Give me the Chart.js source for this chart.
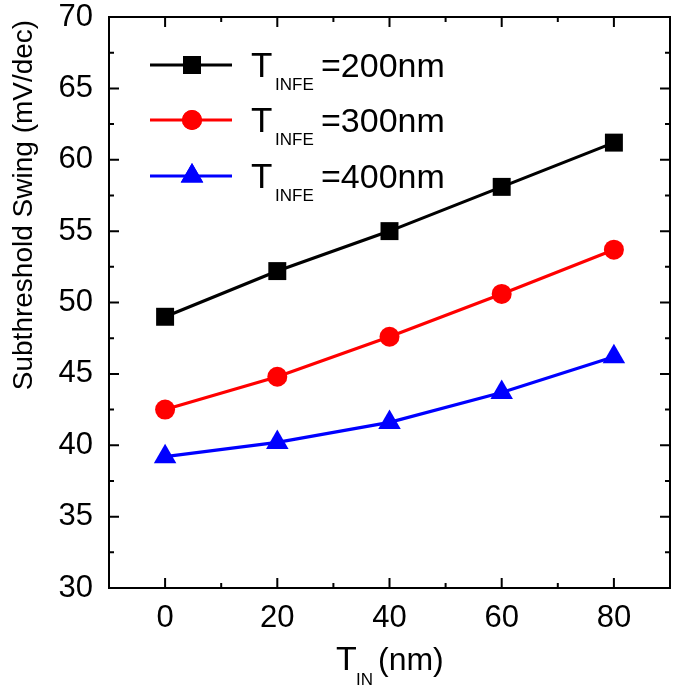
<!DOCTYPE html>
<html>
<head>
<meta charset="utf-8">
<script src="https://cdn.jsdelivr.net/npm/chart.js@4/dist/chart.umd.min.js"></script>
<style>
  html, body { margin:0; padding:0; background:#fff; }
  #wrap { width:675px; height:687px; position:relative; }
</style>
</head>
<body>
<div id="wrap"><canvas id="c" width="675" height="687"></canvas></div>
<script>
// Daten
var tIn = [0, 20, 40, 60, 80];
var ss200 = [49.0, 52.2, 55.0, 58.1, 61.2];
var ss300 = [42.5, 44.8, 47.6, 50.6, 53.7];
var ss400 = [39.2, 40.2, 41.6, 43.7, 46.2];
var seriesNames = ["=200nm", "=300nm", "=400nm"];

var xMajor = [0, 20, 40, 60, 80];
var xMinor = [-10, 10, 30, 50, 70, 90];
var yMajor = [30, 35, 40, 45, 50, 55, 60, 65, 70];
var yMinor = [32.5, 37.5, 42.5, 47.5, 52.5, 57.5, 62.5, 67.5];

var FONT = "'Liberation Sans', Arial, sans-serif";
var BLACK = "#000000", RED = "#ff0000", BLUE = "#0000ff";

function pts(ys){ return tIn.map(function(x,i){ return {x:x, y:ys[i]}; }); }

var styles = [
  { color:BLACK, pointStyle:"rect", radius:12.7 },
  { color:RED, pointStyle:"circle", radius:10 },
  { color:BLUE, pointStyle:"triangle", radius:13 }
];
var values = [ss200, ss300, ss400];

var datasets = values.map(function(v,i){
  var s = styles[i];
  return {
    label: seriesNames[i], data: pts(v),
    borderColor: s.color, backgroundColor: s.color,
    borderWidth: 3.2, pointStyle: s.pointStyle, pointRadius: s.radius,
    pointHoverRadius: s.radius, pointBorderWidth: 0, tension: 0, clip: false
  };
});

function marker(ctx, s, x, y){
  if (Chart.helpers && Chart.helpers.drawPoint){
    ctx.save();
    ctx.fillStyle = s.color; ctx.strokeStyle = s.color;
    Chart.helpers.drawPoint(ctx, {pointStyle:s.pointStyle, radius:s.radius, rotation:0, borderWidth:0}, x, y);
    ctx.fill();
    ctx.restore();
  }
}

function noPad(s){ s.paddingTop = 0; s.paddingBottom = 0; s.paddingLeft = 0; s.paddingRight = 0; }

// Rahmen, Innen-Ticks, Titel, Legende
var decor = {
  id: "decor",
  afterDraw: function(chart){
    var ctx = chart.ctx, a = chart.chartArea;
    var xs = chart.scales.x, ys = chart.scales.y;
    ctx.save();
    ctx.strokeStyle = BLACK; ctx.lineWidth = 2;
    ctx.strokeRect(a.left, a.top, a.right - a.left, a.bottom - a.top);

    ctx.beginPath();
    function xt(v, len){
      var p = xs.getPixelForValue(v);
      ctx.moveTo(p, a.bottom); ctx.lineTo(p, a.bottom - len);
      ctx.moveTo(p, a.top); ctx.lineTo(p, a.top + len);
    }
    function yt(v, len){
      var p = ys.getPixelForValue(v);
      ctx.moveTo(a.left, p); ctx.lineTo(a.left + len, p);
      ctx.moveTo(a.right, p); ctx.lineTo(a.right - len, p);
    }
    xMajor.forEach(function(v){ xt(v, 10); });
    xMinor.forEach(function(v){ xt(v, 5); });
    yMajor.forEach(function(v){ yt(v, 10); });
    yMinor.forEach(function(v){ yt(v, 5); });
    ctx.stroke();

    ctx.fillStyle = BLACK;
    ctx.textBaseline = "alphabetic";

    // y-Titel
    ctx.save();
    ctx.translate(32, 205);
    ctx.rotate(-Math.PI/2);
    ctx.textAlign = "center";
    ctx.font = "28px " + FONT;
    ctx.fillText("Subthreshold Swing (mV/dec)", 0, 0);
    ctx.restore();

    // x-Titel T_IN(nm)
    ctx.textAlign = "left";
    ctx.font = "34px " + FONT;
    ctx.fillText("T", 336, 670);
    ctx.font = "17px " + FONT;
    ctx.fillText("IN", 356, 685);
    ctx.font = "32px " + FONT;
    ctx.fillText("(nm)", 378, 670);

    // Legende
    var rowY = [65, 120, 176];
    styles.forEach(function(s, i){
      var y = rowY[i];
      ctx.strokeStyle = s.color; ctx.lineWidth = 3.2;
      ctx.beginPath(); ctx.moveTo(150, y); ctx.lineTo(232, y); ctx.stroke();
      marker(ctx, s, 192, y);
      ctx.fillStyle = BLACK;
      ctx.font = "35px " + FONT;
      ctx.fillText("T", 251, y + 12);
      ctx.font = "17px " + FONT;
      ctx.fillText("INFE", 275, y + 25);
      ctx.font = "34px " + FONT;
      ctx.fillText(seriesNames[i], 321, y + 12);
    });
    ctx.restore();
  }
};

new Chart(document.getElementById("c"), {
  type: "line",
  data: { datasets: datasets },
  options: {
    responsive: false, animation: false, devicePixelRatio: 1,
    layout: { autoPadding: false, padding: { top: 17, right: 5, left: 0, bottom: 0 } },
    plugins: { legend: { display: false }, tooltip: { enabled: false } },
    scales: {
      x: {
        type: "linear", min: -10, max: 90,
        afterBuildTicks: function(s){ s.ticks = xMajor.map(function(v){ return {value:v}; }); },
        afterFit: function(s){ s.height = 99; noPad(s); },
        grid: { display: false, drawTicks: false }, border: { display: false },
        ticks: { color: BLACK, padding: 12, maxRotation: 0, font: { family: FONT, size: 31 } }
      },
      y: {
        min: 30, max: 70,
        afterBuildTicks: function(s){ s.ticks = yMajor.map(function(v){ return {value:v}; }); },
        afterFit: function(s){ s.width = 109; noPad(s); },
        grid: { display: false, drawTicks: false }, border: { display: false },
        ticks: { color: BLACK, padding: 16, font: { family: FONT, size: 31 } }
      }
    }
  },
  plugins: [decor]
});
</script>
</body>
</html>
